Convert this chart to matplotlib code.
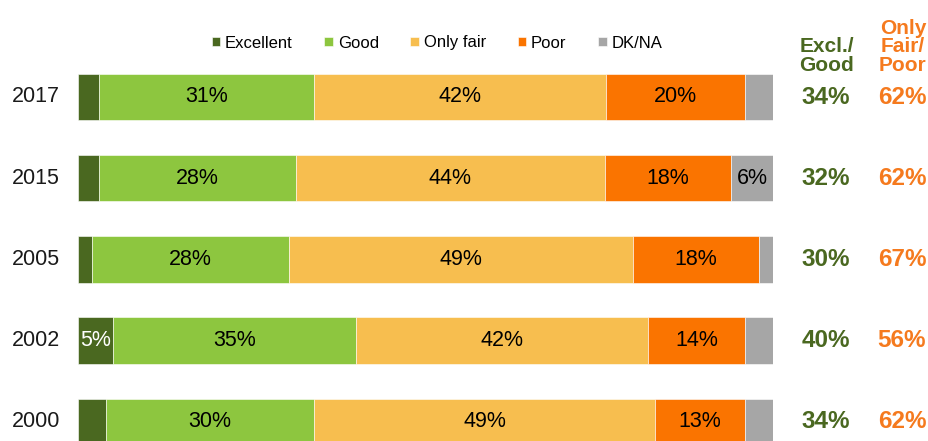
import matplotlib
matplotlib.use("Agg")
import matplotlib.pyplot as plt
import numpy as np

plt.rcParams["font.family"] = ["Liberation Sans", "DejaVu Sans"]

# ------------------------------------------------------------------ #
# data
# ------------------------------------------------------------------ #
years = ["2017", "2015", "2005", "2002", "2000"]
categories = ["Excellent", "Good", "Only fair", "Poor", "DK/NA"]
excellent = [3, 3, 2, 5, 4]
good = [31, 28, 28, 35, 30]
only_fair = [42, 44, 49, 42, 49]
poor = [20, 18, 18, 14, 13]
dk_na = [4, 6, 2, 4, 4]
excl_good = [34, 32, 30, 40, 34]
fair_poor = [62, 62, 67, 56, 62]

COLORS = ["#4A6820", "#8DC63F", "#F7BE4F", "#FA7400", "#A6A6A6"]
TEXT_COLORS = ["white", "black", "black", "black", "black"]
GREEN_TXT = "#4A6820"
ORANGE_TXT = "#F57A1E"

# ------------------------------------------------------------------ #
# plot (100% stacked: each row scaled to its own total)
# ------------------------------------------------------------------ #
W, H = 929, 441
fig = plt.figure(figsize=(W / 100, H / 100), dpi=100)
ax = fig.add_axes([78 / W, 0, 695 / W, 1])

series = np.array([excellent, good, only_fair, poor, dk_na], dtype=float)
totals = series.sum(axis=0)
y = np.arange(len(years))
left = np.zeros(len(years))
handles = []
for vals, name, col, tcol in zip(series, categories, COLORS, TEXT_COLORS):
    widths = vals / totals * 100
    bars = ax.barh(y, widths, left=left, height=0.57, color=col,
                   edgecolor="white", linewidth=0.4, label=name)
    handles.append(bars)
    for yi, l, w, v in zip(y, left, widths, vals):
        if v >= 5:
            ax.text(l + w / 2, yi, f"{v:.0f}%", ha="center", va="center",
                    fontsize=15.5, color=tcol)
    left += widths

spacing = 81.2
top_center = 97
ax.set_ylim((H - top_center) / spacing, -top_center / spacing)
ax.set_xlim(0, 100)
ax.axis("off")

# year labels
for yi, yr in zip(y, years):
    ax.text(-2.6, yi, yr, ha="right", va="center", fontsize=15.5, color="#1a1a1a")

# right-hand summary columns
x_eg = 100 + (826 - 773) / 695 * 100
x_fp = 100 + (902 - 773) / 695 * 100
for yi, a, b in zip(y, excl_good, fair_poor):
    ax.text(x_eg, yi, f"{a}%", ha="center", va="center", fontsize=17.5,
            fontweight="bold", color=GREEN_TXT, clip_on=False)
    ax.text(x_fp, yi, f"{b}%", ha="center", va="center", fontsize=17.5,
            fontweight="bold", color=ORANGE_TXT, clip_on=False)

fig.text(827 / W, 1 - 75 / H, "Excl./\nGood", ha="center", va="bottom",
         fontsize=15, fontweight="bold", color=GREEN_TXT, linespacing=0.98)
fig.text(903 / W, 1 - 75 / H, "Only\nFair/\nPoor", ha="center", va="bottom",
         fontsize=15, fontweight="bold", color=ORANGE_TXT, linespacing=0.98)

# legend
fig.legend(handles=handles, labels=categories, loc="center",
           bbox_to_anchor=(437 / W, 1 - 43 / H), ncol=5, frameon=False,
           fontsize=12, handlelength=0.5, handleheight=0.5,
           handletextpad=0.3, columnspacing=1.9)

fig.savefig("out.png", dpi=100)
